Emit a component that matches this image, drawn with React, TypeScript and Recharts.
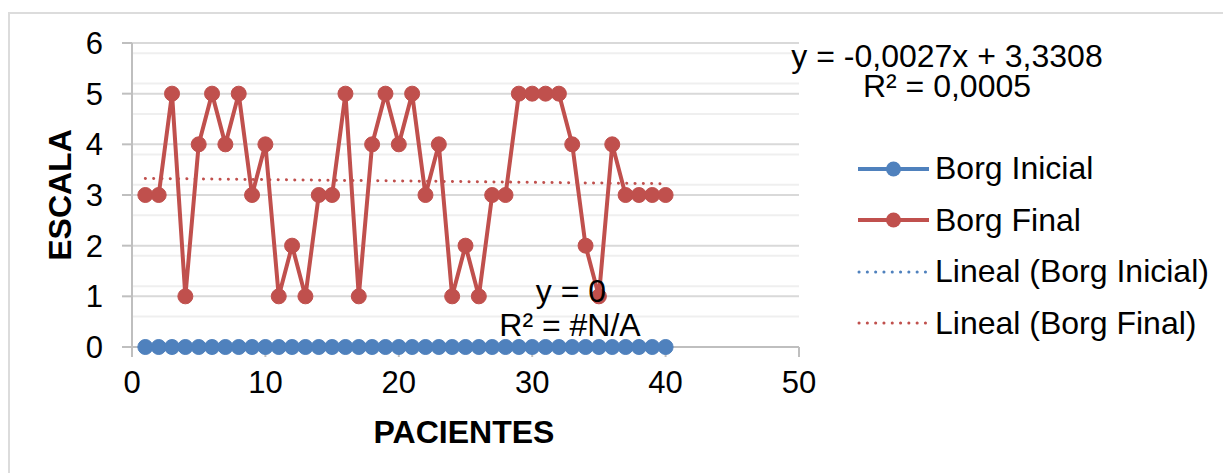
import React from 'react';
import { LineChart, Line, XAxis, YAxis, CartesianGrid, Legend } from 'recharts';

// patients 1..40 and the Borg scale
const patients = [
  1, 2, 3, 4, 5, 6, 7, 8, 9, 10, 11, 12, 13, 14, 15, 16, 17, 18, 19, 20,
  21, 22, 23, 24, 25, 26, 27, 28, 29, 30, 31, 32, 33, 34, 35, 36, 37, 38, 39, 40,
];
const borgInicial = [
  0, 0, 0, 0, 0, 0, 0, 0, 0, 0, 0, 0, 0, 0, 0, 0, 0, 0, 0, 0,
  0, 0, 0, 0, 0, 0, 0, 0, 0, 0, 0, 0, 0, 0, 0, 0, 0, 0, 0, 0,
];
const borgFinal = [
  3, 3, 5, 1, 4, 5, 4, 5, 3, 4, 1, 2, 1, 3, 3, 5, 1, 4, 5, 4,
  5, 3, 4, 1, 2, 1, 3, 3, 5, 5, 5, 5, 4, 2, 1, 4, 3, 3, 3, 3,
];

// linear trend endpoints as drawn
const trendInicial = [
  { x: 1, y: 0 },
  { x: 40, y: 0 },
];
const trendFinal = [
  { x: 1, y: 3.328 },
  { x: 40, y: 3.223 },
];

const xTicks = [0, 10, 20, 30, 40, 50];
const yTicks = [0, 1, 2, 3, 4, 5, 6];
const yMinor = [
  0.2, 0.4, 0.6, 0.8, 1.2, 1.4, 1.6, 1.8, 2.2, 2.4, 2.6, 2.8,
  3.2, 3.4, 3.6, 3.8, 4.2, 4.4, 4.6, 4.8, 5.2, 5.4, 5.6, 5.8,
];

const BLUE = '#4F81BD';
const RED = '#C0504D';
const FONT = '"Liberation Sans", Arial, sans-serif';

const legendItems = [
  { label: 'Borg Inicial', color: BLUE, dotted: false },
  { label: 'Borg Final', color: RED, dotted: false },
  { label: 'Lineal (Borg Inicial)', color: BLUE, dotted: true },
  { label: 'Lineal (Borg Final)', color: RED, dotted: true },
];

const rows = patients.map((p, i) => ({ x: p, inicial: borgInicial[i], final: borgFinal[i] }));

function LegendBox() {
  return (
    <div style={{ fontFamily: FONT }}>
      {legendItems.map((it) => (
        <div key={it.label} style={{ display: 'flex', alignItems: 'center', height: 51.5 }}>
          <svg width={80} height={20} style={{ flex: 'none' }}>
            {it.dotted ? (
              <line x1={4} y1={10} x2={74} y2={10} stroke={it.color} strokeWidth={3}
                strokeLinecap="round" strokeDasharray="0.1 8.2" />
            ) : (
              <>
                <line x1={3} y1={10} x2={74} y2={10} stroke={it.color} strokeWidth={4} />
                <circle cx={38.5} cy={10} r={7.5} fill={it.color} />
              </>
            )}
          </svg>
          <span style={{ fontSize: 32, color: '#000', whiteSpace: 'nowrap' }}>{it.label}</span>
        </div>
      ))}
    </div>
  );
}

const textStyle: React.CSSProperties = {
  position: 'absolute',
  fontFamily: FONT,
  fontSize: 32,
  color: '#000',
  textAlign: 'center',
  width: 400,
  lineHeight: '28px',
  whiteSpace: 'nowrap',
};

export default function App() {
  return (
    <div style={{ position: 'absolute', left: 0, top: 0, width: 1223, height: 473, background: '#fff', overflow: 'hidden' }}>
      <div style={{ position: 'absolute', left: 8, top: 12, width: 1400, height: 600, border: '2px solid #dcdcdc' }} />
      <LineChart width={1223} height={473} data={rows} margin={{ top: 43, right: 424, bottom: 0, left: 42 }}
        style={{ fontFamily: FONT }}>
        <CartesianGrid vertical={false} horizontalValues={yMinor} stroke="#efefef" strokeWidth={2} />
        <CartesianGrid vertical={false} horizontalValues={yTicks} stroke="#d9d9d9" strokeWidth={2} />
        <XAxis dataKey="x" type="number" domain={[0, 50]} ticks={xTicks} tickSize={10} tickMargin={14}
          height={126} stroke="#bfbfbf" strokeWidth={2} tick={{ fill: '#000', fontSize: 31 }} />
        <YAxis type="number" domain={[0, 6]} ticks={yTicks} width={90} tickSize={10} tickMargin={19}
          stroke="#bfbfbf" strokeWidth={2} tick={{ fill: '#000', fontSize: 31 }} />
        <Legend layout="horizontal" verticalAlign="middle" align="center" content={<LegendBox />}
          wrapperStyle={{ left: 855, top: 143, width: 370, height: 210 }} />
        <Line dataKey="inicial" stroke={BLUE} strokeWidth={4} isAnimationActive={false}
          dot={{ r: 7.5, fill: BLUE, stroke: BLUE, strokeWidth: 1 }} />
        <Line dataKey="final" stroke={RED} strokeWidth={4} isAnimationActive={false}
          dot={{ r: 7.5, fill: RED, stroke: RED, strokeWidth: 1 }} />
        <Line data={trendInicial} dataKey="y" stroke={BLUE} strokeWidth={3} strokeLinecap="round"
          strokeDasharray="0.1 8.2" dot={false} isAnimationActive={false} />
        <Line data={trendFinal} dataKey="y" stroke={RED} strokeWidth={3} strokeLinecap="round"
          strokeDasharray="0.1 8.2" dot={false} isAnimationActive={false} />
      </LineChart>

      <div style={{ ...textStyle, left: 747, top: 42 }}>y = -0,0027x + 3,3308</div>
      <div style={{ ...textStyle, left: 747, top: 72 }}>R² = 0,0005</div>
      <div style={{ ...textStyle, left: 371, top: 277 }}>y = 0</div>
      <div style={{ ...textStyle, left: 370, top: 311 }}>R² = #N/A</div>

      <div style={{ ...textStyle, left: 264, top: 418, fontWeight: 'bold' }}>PACIENTES</div>
      <div style={{ ...textStyle, left: -140, top: 181, fontWeight: 'bold', transform: 'rotate(-90deg)' }}>ESCALA</div>
    </div>
  );
}
